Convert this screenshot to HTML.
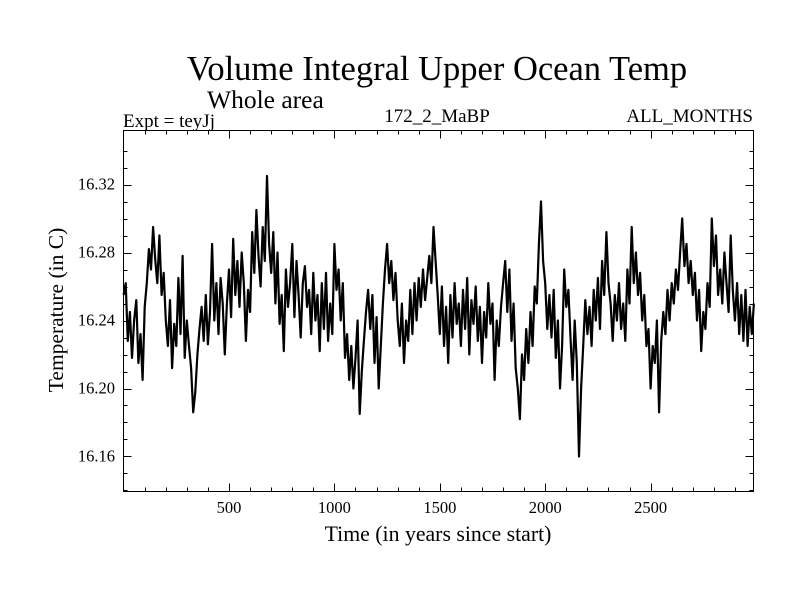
<!DOCTYPE html>
<html><head><meta charset="utf-8"><style>
body{margin:0;background:#fff}
svg text{font-family:"Liberation Serif",serif;fill:#000}
</style></head><body>
<svg id="chart" width="800" height="600" xmlns="http://www.w3.org/2000/svg">
<rect width="800" height="600" fill="#fff"/>
<text x="437" y="80" font-size="34.5" text-anchor="middle">Volume Integral Upper Ocean Temp</text>
<text x="207" y="108" font-size="25.5">Whole area</text>
<text x="123" y="127" font-size="19">Expt = teyJj</text>
<text x="437" y="122" font-size="19" text-anchor="middle">172_2_MaBP</text>
<text x="753" y="122" font-size="19" text-anchor="end">ALL_MONTHS</text>
<text x="438" y="541" font-size="21.8" text-anchor="middle">Time (in years since start)</text>
<text transform="translate(63,310) rotate(-90)" font-size="21.5" text-anchor="middle">Temperature (in C)</text>
<g id="axes"></g>
<path id="series" fill="none" stroke="#000" stroke-width="2.2" stroke-linejoin="round"/>
<rect x="123.5" y="130.5" width="630" height="361" fill="none" stroke="#000" stroke-width="1"/>
</svg>
<script>
const xTicks=[500,1000,1500,2000,2500];
const yTicks=[16.16,16.20,16.24,16.28,16.32];
const yTickLabels=["16.16","16.20","16.24","16.28","16.32"];
const startYear=0, stepYears=10;
const temps=[
16.255,16.262,16.228,16.245,16.218,16.240,16.252,16.215,16.232,16.205,
16.248,16.262,16.282,16.270,16.295,16.276,16.262,16.290,16.255,16.268,
16.240,16.225,16.252,16.212,16.238,16.225,16.265,16.232,16.278,16.218,
16.240,16.225,16.212,16.186,16.198,16.220,16.235,16.248,16.228,16.255,
16.226,16.245,16.285,16.240,16.262,16.232,16.265,16.250,16.220,16.250,
16.270,16.242,16.288,16.255,16.275,16.248,16.280,16.262,16.228,16.258,
16.245,16.292,16.268,16.305,16.278,16.260,16.295,16.275,16.325,16.285,
16.268,16.292,16.250,16.280,16.238,16.255,16.222,16.270,16.248,16.262,
16.285,16.242,16.275,16.255,16.230,16.262,16.272,16.248,16.258,16.232,
16.268,16.240,16.255,16.222,16.262,16.235,16.268,16.228,16.250,16.232,
16.285,16.258,16.270,16.240,16.262,16.218,16.232,16.205,16.225,16.200,
16.218,16.240,16.185,16.210,16.228,16.245,16.258,16.235,16.255,16.215,
16.242,16.200,16.225,16.250,16.270,16.285,16.262,16.275,16.252,16.268,
16.240,16.225,16.250,16.215,16.240,16.228,16.258,16.232,16.262,16.240,
16.265,16.248,16.270,16.252,16.265,16.278,16.262,16.295,16.275,16.255,
16.232,16.260,16.225,16.248,16.215,16.255,16.230,16.262,16.238,16.250,
16.225,16.258,16.235,16.265,16.220,16.252,16.238,16.260,16.228,16.248,
16.215,16.245,16.230,16.262,16.238,16.250,16.205,16.240,16.225,16.248,
16.262,16.275,16.245,16.270,16.228,16.250,16.212,16.200,16.182,16.220,
16.205,16.235,16.215,16.245,16.225,16.260,16.250,16.285,16.310,16.275,
16.262,16.235,16.255,16.230,16.258,16.218,16.240,16.200,16.225,16.270,
16.248,16.258,16.230,16.205,16.240,16.215,16.160,16.200,16.225,16.252,
16.232,16.248,16.225,16.258,16.240,16.265,16.235,16.275,16.255,16.292,
16.262,16.250,16.228,16.255,16.240,16.262,16.235,16.250,16.228,16.270,
16.250,16.295,16.262,16.280,16.255,16.268,16.240,16.255,16.225,16.235,
16.200,16.225,16.215,16.240,16.186,16.228,16.245,16.232,16.258,16.240,
16.262,16.250,16.270,16.258,16.280,16.300,16.272,16.285,16.262,16.275,
16.255,16.268,16.240,16.258,16.222,16.245,16.235,16.262,16.248,16.300,
16.272,16.290,16.255,16.270,16.250,16.280,16.262,16.245,16.290,16.258,
16.240,16.262,16.232,16.255,16.228,16.258,16.225,16.248,16.232,16.250
];
const L=123.5,R=753.5,T=130.5,B=491.5;
const xMin=-0.5,xMax=2988,yMin=16.1394,yMax=16.3518;
function sx(v){return L+(v-xMin)/(xMax-xMin)*(R-L);}
function sy(v){return B-(v-yMin)/(yMax-yMin)*(B-T);}
const NS="http://www.w3.org/2000/svg";
const axes=document.getElementById('axes');
function line(x1,y1,x2,y2,name){
  const l=document.createElementNS(NS,'line');
  l.setAttribute('x1',x1);l.setAttribute('y1',y1);l.setAttribute('x2',x2);l.setAttribute('y2',y2);
  l.setAttribute('stroke','#000');l.setAttribute('stroke-width','1');
  
  
  axes.appendChild(l);
}
function text(x,y,s,anchor,name){
  const t=document.createElementNS(NS,'text');
  t.setAttribute('x',x);t.setAttribute('y',y);t.setAttribute('font-size','16.5');t.setAttribute('text-anchor',anchor);
  t.textContent=s;
  
  
  axes.appendChild(t);
}
for(let v=100;v<xMax;v+=100){
  const x=Math.round(sx(v))+0.5, major=v%500===0, len=major?8:4;
  line(x,B,x,B-len,'x-tick');line(x,T,x,T+len,'x-tick-top');
}
xTicks.forEach(v=>text(sx(v),513,String(v),'middle','x-tick-label'));
for(let k=0;k<=20;k++){
  const v=16.14+k*0.01; if(v>yMax) break;
  const y=Math.round(sy(v))+0.5, major=Math.abs(((v-16.16)/0.04)-Math.round((v-16.16)/0.04))<1e-6, len=major?8:4;
  line(L,y,L+len,y,'y-tick');line(R,y,R-len,y,'y-tick-right');
}
yTicks.forEach((v,i)=>text(115,sy(v)+5,yTickLabels[i],'end','y-tick-label'));
let d='';
temps.forEach((v,i)=>{const yr=startYear+i*stepYears;d+=(i?'L':'M')+sx(yr).toFixed(1)+' '+sy(v).toFixed(1);});
document.getElementById('series').setAttribute('d',d);
</script>
</body></html>
